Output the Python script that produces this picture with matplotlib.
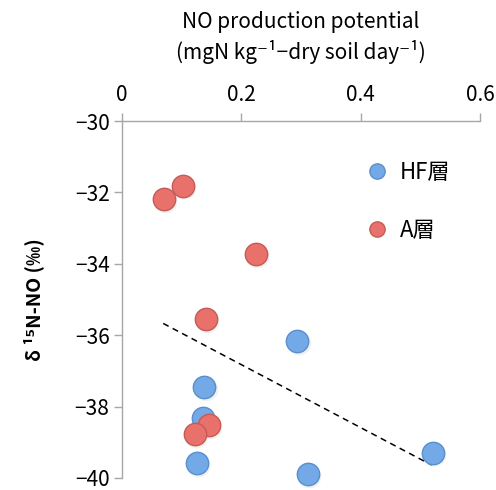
import matplotlib
matplotlib.use('Agg')
import matplotlib.pyplot as plt
from matplotlib.lines import Line2D

plt.rcParams['font.family'] = ['Noto Sans CJK JP', 'DejaVu Sans']

# HF layer points (NO production potential, d15N-NO)
hf_x = [0.294, 0.138, 0.135, 0.126, 0.311, 0.521]
hf_y = [-36.16, -37.46, -38.31, -39.59, -39.89, -39.29]

# A layer points
a_x = [0.070, 0.102, 0.224, 0.140, 0.146, 0.122]
a_y = [-32.19, -31.81, -33.73, -35.55, -38.52, -38.77]

# trend line end points
trend_x = [0.069, 0.519]
trend_y = [-35.67, -39.64]

blue_face, blue_edge = '#72a9e6', '#5a8fcc'
red_face, red_edge = '#e9716b', '#c85a55'

fig = plt.figure(figsize=(4.96, 4.9), dpi=100)
ax = fig.add_axes([0.246, 0.0245, 0.722, 0.7285])

ax.plot(trend_x, trend_y, linestyle=(0, (4, 3)), color='black', lw=1.1, zorder=2)

# soft shadow then marker
for xs, ys, fc, ec in [(hf_x, hf_y, blue_face, blue_edge), (a_x, a_y, red_face, red_edge)]:
    ax.scatter([x + 0.002 for x in xs], [y - 0.05 for y in ys], s=290, color='#dddddd',
               alpha=0.4, linewidths=0, zorder=3, clip_on=False)
    ax.scatter(xs, ys, s=260, facecolor=fc, edgecolor=ec, linewidths=1.0,
               zorder=4, clip_on=False)

ax.set_xlim(0, 0.6)
ax.set_ylim(-40, -30)
ax.set_xticks([0, 0.2, 0.4, 0.6])
ax.set_xticklabels(['0', '0.2', '0.4', '0.6'])
ax.set_yticks([-30, -32, -34, -36, -38, -40])
ax.set_yticklabels(['\u221230', '\u221232', '\u221234', '\u221236', '\u221238', '\u221240'])
ax.xaxis.tick_top()
ax.xaxis.set_label_position('top')

for side in ['right', 'bottom']:
    ax.spines[side].set_visible(False)
for side in ['left', 'top']:
    ax.spines[side].set_color('#a6a6a6')
    ax.spines[side].set_linewidth(1.0)
ax.tick_params(axis='both', colors='#a6a6a6', labelcolor='black', labelsize=15,
               length=6, width=1.0, direction='out')
ax.tick_params(axis='x', pad=5)
ax.tick_params(axis='y', pad=3)

ax.set_xlabel('NO production potential\n(mgN kg\u207b\u00b9\u2212dry soil day\u207b\u00b9)',
              fontsize=15, labelpad=18, linespacing=1.35)
ax.set_ylabel('\u03b4 \u00b9\u2075N-NO (\u2030)', fontsize=14, fontweight='bold', labelpad=22)

handles = [
    Line2D([], [], marker='o', linestyle='none', markersize=11,
           markerfacecolor=blue_face, markeredgecolor=blue_edge, label='HF層'),
    Line2D([], [], marker='o', linestyle='none', markersize=11,
           markerfacecolor=red_face, markeredgecolor=red_edge, label='A層'),
]
ax.legend(handles=handles, loc='upper left', bbox_to_anchor=(0.62, 0.945), frameon=False,
          fontsize=16, labelspacing=1.6, handletextpad=0.4, handlelength=1.2)

fig.savefig('out.png', dpi=100)
